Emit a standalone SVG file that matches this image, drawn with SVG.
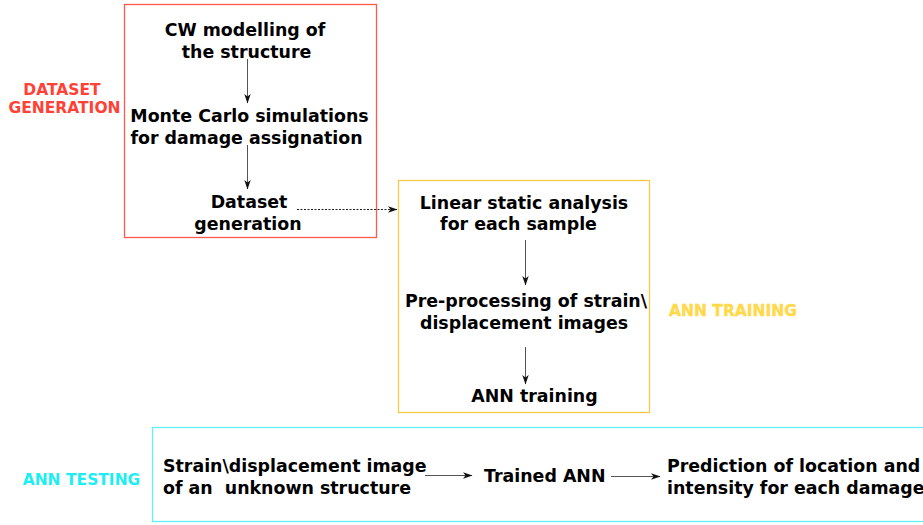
<svg xmlns="http://www.w3.org/2000/svg" width="923" height="525" viewBox="0 0 923 525">
<style>
.t{font-family:"DejaVu Sans","Liberation Sans",sans-serif;font-weight:bold;font-size:17.4px;fill:#000}
.lab{font-family:"DejaVu Sans","Liberation Sans",sans-serif;font-weight:bold;font-size:15.5px}
.c{stroke:#555;stroke-width:1;fill:none;marker-end:url(#ah)}
.d{stroke:#222;stroke-width:1;stroke-dasharray:2,1.5;fill:none;marker-end:url(#ah)}
</style>
<defs>
<marker id="ah" viewBox="0 0 10 8" refX="9" refY="4" markerWidth="10" markerHeight="8" markerUnits="userSpaceOnUse" orient="auto">
<path d="M0,0.8 L9.5,4 L0,7.2 L2.5,4 z" fill="#111"/>
</marker>
</defs>
<rect width="923" height="525" fill="#fff"/>
<g id="dataset-phase">
<rect x="124.5" y="4.5" width="252" height="233" fill="none" stroke="#ff5a4a" stroke-width="1.3"/>
<text class="lab" fill="#ff4136" x="62" y="95" text-anchor="middle">DATASET</text>
<text class="lab" fill="#ff4136" x="64.5" y="113" text-anchor="middle">GENERATION</text>
</g>
<g id="n-cw">
<text class="t" x="245" y="35.5" text-anchor="middle">CW modelling of</text>
<text class="t" x="246.5" y="57.5" text-anchor="middle">the structure</text>
</g>
<g id="n-mc">
<text class="t" x="249.5" y="121.5" text-anchor="middle">Monte Carlo simulations</text>
<text class="t" x="246.5" y="143.5" text-anchor="middle">for damage assignation</text>
</g>
<g id="n-ds">
<text class="t" x="249" y="208" text-anchor="middle">Dataset</text>
<text class="t" x="248" y="230" text-anchor="middle">generation</text>
</g>
<g id="training-phase">
<rect x="398.5" y="180.5" width="251" height="232" fill="none" stroke="#f7c948" stroke-width="1.3"/>
<text class="lab" fill="#ffd94a" stroke="#ffd94a" stroke-width="0.4" x="733" y="316" text-anchor="middle">ANN TRAINING</text>
</g>
<g id="n-lsa">
<text class="t" x="524" y="208.5" text-anchor="middle">Linear static analysis</text>
<text class="t" x="518.5" y="229.5" text-anchor="middle">for each sample</text>
</g>
<g id="n-pre">
<text class="t" x="526" y="306.5" text-anchor="middle">Pre-processing of strain\</text>
<text class="t" x="524" y="328.5" text-anchor="middle">displacement images</text>
</g>
<g id="n-ann">
<text class="t" x="534.5" y="402" text-anchor="middle">ANN training</text>
</g>
<g id="testing-phase">
<rect x="152.5" y="427.5" width="780" height="94" fill="none" stroke="#5ff0f8" stroke-width="1.3"/>
<text class="lab" fill="#1eeef2" x="81.5" y="484.5" text-anchor="middle">ANN TESTING</text>
</g>
<g id="n-img">
<text class="t" x="163" y="472">Strain\displacement image</text>
<text class="t" x="163" y="494" xml:space="preserve">of an  unknown structure</text>
</g>
<g id="n-trained">
<text class="t" x="484" y="482">Trained ANN</text>
</g>
<g id="n-pred">
<text class="t" x="667" y="472">Prediction of location and</text>
<text class="t" x="667" y="494">intensity for each damage</text>
</g>
<g id="connectors">
<line class="c" x1="247.5" y1="59" x2="247.5" y2="103"/>
<line class="c" x1="247.5" y1="145" x2="247.5" y2="189"/>
<line class="d" x1="297" y1="209.5" x2="397" y2="209.5"/>
<line class="c" x1="525.5" y1="240" x2="525.5" y2="285"/>
<line class="c" x1="525.5" y1="347" x2="525.5" y2="384"/>
<line class="c" x1="425" y1="475.5" x2="472" y2="475.5"/>
<line class="c" x1="611" y1="476.5" x2="660" y2="476.5"/>
</g>
</svg>
